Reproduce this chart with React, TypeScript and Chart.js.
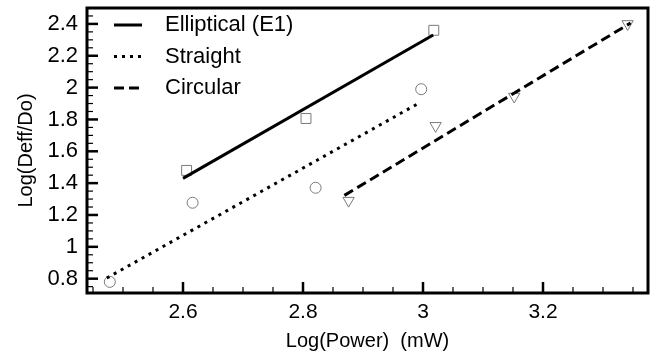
import React, { useEffect, useRef } from "react";
import { Chart, registerables } from "chart.js";

Chart.register(...registerables);

const FONT = "Arial, 'Liberation Sans', Helvetica, sans-serif";

// ---- data ----
const seriesNames = ["Elliptical (E1)", "Straight", "Circular"];

const ellipticalPowerX = [2.606, 2.805, 3.018];
const ellipticalDeffY = [1.48, 1.806, 2.36];
const straightPowerX = [2.478, 2.616, 2.821, 2.997];
const straightDeffY = [0.78, 1.277, 1.371, 1.99];
const circularPowerX = [2.876, 3.021, 3.152, 3.341];
const circularDeffY = [1.29, 1.76, 1.944, 2.4];

const ellipticalFitX = [2.6, 3.017];
const ellipticalFitY = [1.43, 2.33];
const straightFitX = [2.473, 2.992];
const straightFitY = [0.804, 1.9];
const circularFitX = [2.869, 3.346];
const circularFitY = [1.323, 2.406];

const xTickValues = [2.6, 2.8, 3.0, 3.2];
const yTickValues = [0.8, 1, 1.2, 1.4, 1.6, 1.8, 2, 2.2, 2.4];
const xRange = [2.44, 3.375];
const yRange = [0.71, 2.5];
const minorStep = 0.05;

const xTitle = "Log(Power)  (mW)";
const yTitle = "Log(Deff/Do)";

const pts = (xs: number[], ys: number[]) => xs.map((x, i) => ({ x, y: ys[i] }));
const fmt = (v: any) => String(+Number(v).toFixed(2));

const frameTicksPlugin = {
  id: "frameTicks",
  afterDatasetsDraw(chart: any) {
    const { ctx, chartArea: a, scales } = chart;
    ctx.save();
    ctx.strokeStyle = "#000";
    ctx.lineCap = "butt";
    const drawTicks = (scale: any, horiz: boolean) => {
      const start = Math.ceil(scale.min / minorStep - 1e-6);
      const end = Math.floor(scale.max / minorStep + 1e-6);
      for (let i = start; i <= end; i++) {
        const v = i * minorStep;
        const major = scale.ticks.some((t: any) => Math.abs(t.value - v) < 1e-6);
        const len = major ? 11 : 6;
        ctx.lineWidth = major ? 2.5 : 1.2;
        const p = scale.getPixelForValue(v);
        ctx.beginPath();
        if (horiz) {
          ctx.moveTo(p, a.bottom);
          ctx.lineTo(p, a.bottom - len);
        } else {
          ctx.moveTo(a.left, p);
          ctx.lineTo(a.left + len, p);
        }
        ctx.stroke();
      }
    };
    drawTicks(scales.x, true);
    drawTicks(scales.y, false);
    ctx.lineWidth = 3;
    ctx.strokeRect(a.left, a.top, a.right - a.left, a.bottom - a.top);

    // legend (inside plot, top-left)
    const fits = chart.data.datasets.filter((d: any) => d.isFit);
    ctx.font = `22px ${FONT}`;
    ctx.fillStyle = "#000";
    ctx.textBaseline = "middle";
    ctx.textAlign = "left";
    fits.forEach((d: any, i: number) => {
      const y = a.top + 17 + i * 31.5;
      ctx.lineWidth = d.borderWidth;
      ctx.setLineDash(d.borderDash || []);
      ctx.beginPath();
      ctx.moveTo(a.left + 27, y);
      ctx.lineTo(a.left + 55, y);
      ctx.stroke();
      ctx.setLineDash([]);
      ctx.fillText(d.label, a.left + 78, y);
    });
    ctx.restore();
  },
};

export default function App() {
  const ref = useRef<HTMLCanvasElement>(null);
  useEffect(() => {
    document.body.style.margin = "0";
    const markerColor = "#7a7a7a";
    const chart = new Chart(ref.current!, {
      type: "scatter",
      data: {
        datasets: [
          {
            label: seriesNames[0],
            isFit: true,
            data: pts(ellipticalFitX, ellipticalFitY),
            showLine: true,
            borderColor: "#000",
            borderWidth: 3,
            borderDash: [],
            pointRadius: 0,
          } as any,
          {
            label: seriesNames[1],
            isFit: true,
            data: pts(straightFitX, straightFitY),
            showLine: true,
            borderColor: "#000",
            borderWidth: 3,
            borderDash: [3, 5],
            pointRadius: 0,
          } as any,
          {
            label: seriesNames[2],
            isFit: true,
            data: pts(circularFitX, circularFitY),
            showLine: true,
            borderColor: "#000",
            borderWidth: 3,
            borderDash: [10, 5],
            pointRadius: 0,
          } as any,
          {
            label: seriesNames[0] + " data",
            data: pts(ellipticalPowerX, ellipticalDeffY),
            pointStyle: "rect",
            pointRadius: 7,
            borderColor: markerColor,
            backgroundColor: "rgba(0,0,0,0)",
            borderWidth: 1,
          },
          {
            label: seriesNames[1] + " data",
            data: pts(straightPowerX, straightDeffY),
            pointStyle: "circle",
            pointRadius: 5.5,
            borderColor: markerColor,
            backgroundColor: "rgba(0,0,0,0)",
            borderWidth: 1,
          },
          {
            label: seriesNames[2] + " data",
            data: pts(circularPowerX, circularDeffY),
            pointStyle: "triangle",
            rotation: 180,
            pointRadius: 6.5,
            borderColor: markerColor,
            backgroundColor: "rgba(0,0,0,0)",
            borderWidth: 1,
          },
        ],
      },
      options: {
        responsive: false,
        animation: false,
        layout: { padding: { left: 0, top: 7, right: 5, bottom: 0 } },
        plugins: { legend: { display: false }, tooltip: { enabled: false } },
        scales: {
          x: {
            type: "linear",
            min: xRange[0],
            max: xRange[1],
            afterBuildTicks: (s: any) => {
              s.ticks = xTickValues.map((value) => ({ value }));
            },
            afterFit: (s: any) => {
              s.height = 64;
              s.paddingLeft = 0;
              s.paddingRight = 0;
            },
            grid: { display: false, drawTicks: false },
            border: { display: false },
            ticks: {
              font: { family: FONT, size: 21 },
              color: "#000",
              padding: 7,
              maxRotation: 0,
              autoSkip: false,
              callback: fmt,
            },
            title: {
              display: true,
              text: xTitle,
              font: { family: FONT, size: 20 },
              color: "#000",
              padding: { top: 0, bottom: 4 },
            },
          },
          y: {
            type: "linear",
            min: yRange[0],
            max: yRange[1],
            afterBuildTicks: (s: any) => {
              s.ticks = yTickValues.map((value) => ({ value }));
            },
            afterFit: (s: any) => {
              s.width = 87;
              s.paddingTop = 0;
              s.paddingBottom = 0;
            },
            grid: { display: false, drawTicks: false },
            border: { display: false },
            ticks: {
              font: { family: FONT, size: 22 },
              color: "#000",
              padding: 9,
              autoSkip: false,
              callback: fmt,
            },
            title: {
              display: true,
              text: yTitle,
              font: { family: FONT, size: 20 },
              color: "#000",
              padding: { top: 14, bottom: 0 },
            },
          },
        },
      },
      plugins: [frameTicksPlugin],
    });
    return () => chart.destroy();
  }, []);
  return (
    <div style={{ width: 656, height: 357 }}>
      <canvas ref={ref} width={656} height={357} style={{ display: "block" }} />
    </div>
  );
}
